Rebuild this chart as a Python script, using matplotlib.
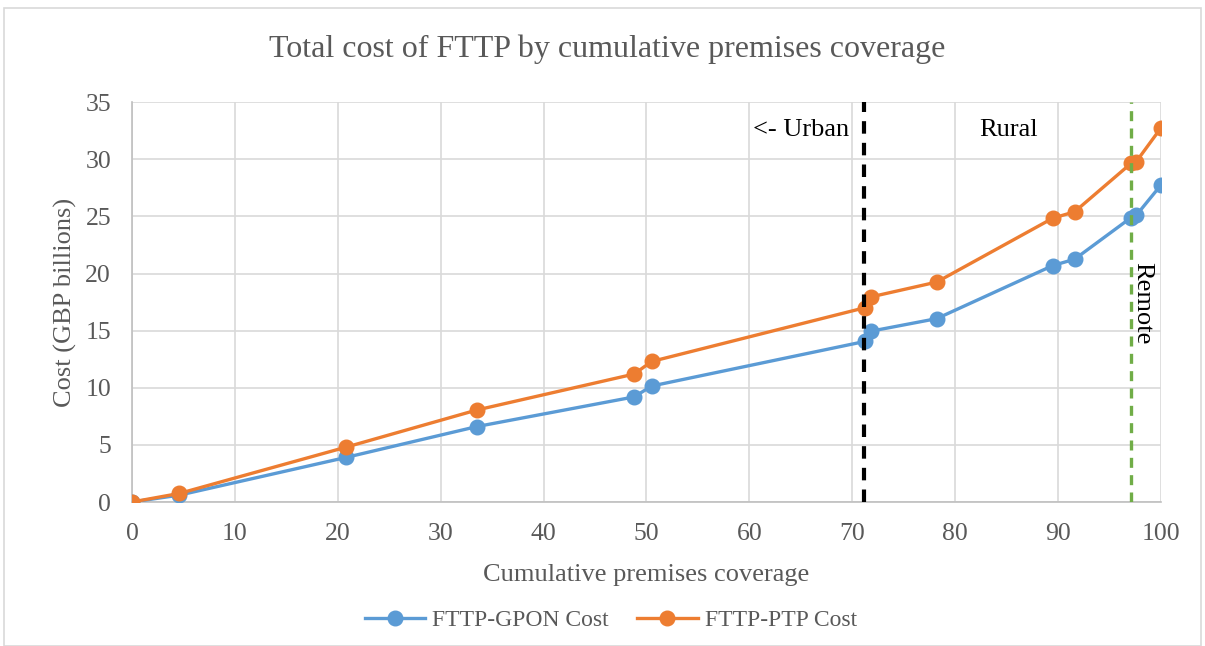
import matplotlib.pyplot as plt
from matplotlib.patches import Rectangle

plt.rcParams['font.family'] = ['Liberation Serif', 'DejaVu Serif']

coverage = [0, 4.6, 20.8, 33.5, 48.8, 50.5, 71.2, 71.8, 78.2, 89.5, 91.6, 97.1, 97.6, 100]
gpon_cost = [0, 0.6, 3.9, 6.6, 9.2, 10.15, 14.05, 14.95, 16.05, 20.7, 21.25, 24.9, 25.1, 27.75]
ptp_cost = [0, 0.75, 4.8, 8.05, 11.2, 12.3, 17.0, 17.95, 19.25, 24.85, 25.4, 29.65, 29.8, 32.75]
urban_edge = 71.1
remote_edge = 97.1

grey = '#595959'
fig = plt.figure(figsize=(12.05, 6.46), dpi=100)
fig.patches.append(Rectangle((0.003, 0.0), 0.994, 0.987, transform=fig.transFigure,
                             fill=False, edgecolor='#d9d9d9', linewidth=1.2))
ax = fig.add_axes([0.1095, 0.2229, 0.854, 0.619])

ax.plot(coverage, gpon_cost, '-o', color='#5B9BD5', lw=2.4, ms=10.5, label='FTTP-GPON Cost', zorder=3)
ax.plot(coverage, ptp_cost, '-o', color='#ED7D31', lw=2.4, ms=10.5, label='FTTP-PTP Cost', zorder=3)
ax.axvline(urban_edge, color='black', ls=(0, (3, 2.2)), lw=3, zorder=4)
ax.axvline(remote_edge, color='#70AD47', ls=(0, (3, 2.2)), lw=2.4, zorder=4)

ax.text(65, 32.6, '<- Urban', fontsize=19, ha='center', va='center')
ax.text(85.2, 32.6, 'Rural', fontsize=19, ha='center', va='center')
ax.text(98.2, 17.4, 'Remote', fontsize=19, ha='center', va='center', rotation=-90)

ax.set_xlim(0, 100)
ax.set_ylim(0, 35)
ax.set_xticks(range(0, 101, 10))
ax.set_yticks(range(0, 36, 5))
ax.grid(color='#d9d9d9', lw=1.2)
ax.set_axisbelow(True)
for s in ['top', 'right']:
    ax.spines[s].set_visible(False)
for s in ['left', 'bottom']:
    ax.spines[s].set_color('#bfbfbf')
    ax.spines[s].set_linewidth(1.2)
ax.tick_params(length=0, labelsize=18.5, labelcolor=grey)
ax.tick_params(axis='x', pad=15)
ax.tick_params(axis='y', pad=15)

fig.text(0.504, 0.924, 'Total cost of FTTP by cumulative premises coverage',
         fontsize=23, color=grey, ha='center', va='center')
ax.set_xlabel('Cumulative premises coverage', fontsize=19, color=grey, labelpad=14)
ax.set_ylabel('Cost (GBP billions)', fontsize=19, color=grey, labelpad=6)

fig.legend(loc='center', bbox_to_anchor=(0.507, 0.04), ncol=2, frameon=False,
           fontsize=17, labelcolor=grey, handlelength=2.55, columnspacing=1.2, handletextpad=0.3)

fig.savefig('out.png', dpi=100)
